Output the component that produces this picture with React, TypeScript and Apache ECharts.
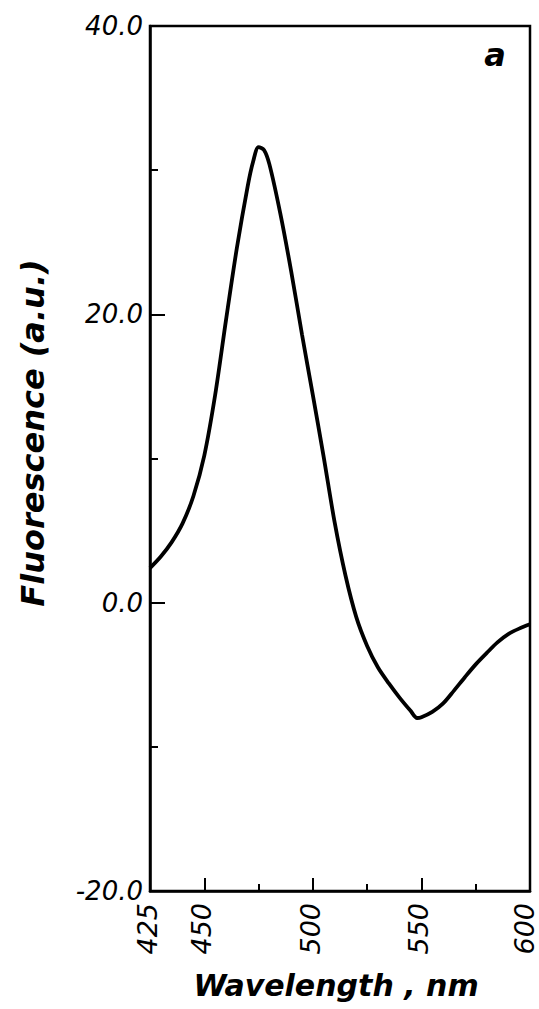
import React, { useEffect, useRef } from "react";
import * as echarts from "echarts";

const wavelengths = [425, 430, 435, 440, 445, 450, 455, 460, 465, 470, 472.5, 475, 477.5, 480, 485, 490, 495, 500, 505, 510, 515, 520, 525, 530, 535, 540, 545, 548, 550, 555, 560, 565, 570, 575, 580, 585, 590, 595, 600];
const fluorescence = [2.4, 3.2, 4.2, 5.5, 7.4, 10.2, 14.4, 19.6, 24.6, 28.9, 30.6, 31.6, 31.4, 30.4, 27.0, 23.0, 18.6, 14.4, 10.1, 5.6, 1.9, -1.0, -3.0, -4.5, -5.6, -6.6, -7.5, -8.0, -7.95, -7.58, -6.99, -6.1, -5.17, -4.28, -3.5, -2.75, -2.18, -1.8, -1.5];
const xLabelValues = [425, 450, 500, 550, 600];
const xMajorTicks = [450, 500, 550];
const yTitle = "Fluorescence (a.u.)";
const xTitle = "Wavelength , nm";
const panelLabel = "a";

export default function App() {
  const ref = useRef<HTMLDivElement>(null);
  useEffect(() => {
    if (!ref.current) return;
    const chart = echarts.init(ref.current, null, { renderer: "svg" });
    const labelFont = {
      fontFamily: "DejaVu Sans",
      fontStyle: "italic",
      color: "#000",
    };
    chart.setOption({
      animation: false,
      backgroundColor: "#fff",
      grid: {
        left: 150,
        right: 9,
        top: 26,
        bottom: 118,
        show: true,
        outerBoundsMode: "none",
        containLabel: false,
        borderColor: "#000",
        borderWidth: 2.5,
        backgroundColor: "transparent",
      },
      xAxis: {
        type: "value",
        min: 425,
        max: 600,
        interval: 25,
        axisLine: { show: true, onZero: false, lineStyle: { color: "#000", width: 2.5 } },
        axisTick: { show: true, inside: true, length: 7, lineStyle: { color: "#000", width: 2 } },
        splitLine: { show: false },
        axisLabel: {
          ...labelFont,
          fontSize: 27,
          rotate: 90,
          margin: 12,
          formatter: (v: number) =>
            xLabelValues.includes(v) ? (v === 600 ? `{e|${v}}` : `{n|${v}}`) : "",
          rich: {
            n: { ...labelFont, fontSize: 27, padding: [0, 0, 5, 0] },
            e: { ...labelFont, fontSize: 27, padding: [0, 0, 12, 0] },
          },
        },
      },
      yAxis: {
        type: "value",
        min: -20,
        max: 40,
        interval: 20,
        axisLine: { show: true, onZero: false, lineStyle: { color: "#000", width: 2.5 } },
        axisTick: { show: true, inside: true, length: 15, lineStyle: { color: "#000", width: 2 } },
        minorTick: { show: true, splitNumber: 2, length: 8, lineStyle: { color: "#000", width: 2 } },
        splitLine: { show: false },
        minorSplitLine: { show: false },
        axisLabel: {
          ...labelFont,
          fontSize: 26,
          margin: 7,
          formatter: (v: number) => v.toFixed(1),
        },
      },
      graphic: [
        {
          type: "text",
          x: 33,
          y: 433,
          rotation: Math.PI / 2,
          style: {
            text: yTitle,
            fontFamily: "DejaVu Sans",
            fontWeight: "bold",
            fontStyle: "italic",
            fontSize: 32,
            fill: "#000",
            align: "center",
            verticalAlign: "middle",
          },
        },
        {
          type: "text",
          x: 336,
          y: 985,
          style: {
            text: xTitle,
            fontFamily: "DejaVu Sans",
            fontWeight: "bold",
            fontStyle: "italic",
            fontSize: 30,
            fill: "#000",
            align: "center",
            verticalAlign: "middle",
          },
        },
        {
          type: "text",
          x: 495,
          y: 55,
          style: {
            text: panelLabel,
            fontFamily: "DejaVu Sans",
            fontWeight: "bold",
            fontStyle: "italic",
            fontSize: 32,
            fill: "#000",
            align: "center",
            verticalAlign: "middle",
          },
        },
      ],
      series: [
        {
          type: "line",
          data: wavelengths.map((w, i) => [w, fluorescence[i]]),
          smooth: 0.3,
          showSymbol: false,
          symbol: "none",
          lineStyle: { color: "#000", width: 3.8 },
          markLine: {
            silent: true,
            symbol: "none",
            label: { show: false },
            lineStyle: { color: "#000", width: 2, type: "solid" },
            data: xMajorTicks.map((t) => [
              { coord: [t, -20] },
              { coord: [t, -19.1] },
            ]),
          },
        },
      ],
    });
    return () => chart.dispose();
  }, []);
  return <div ref={ref} style={{ width: 539, height: 1009, position: "fixed", left: 0, top: 0 }} />;
}
